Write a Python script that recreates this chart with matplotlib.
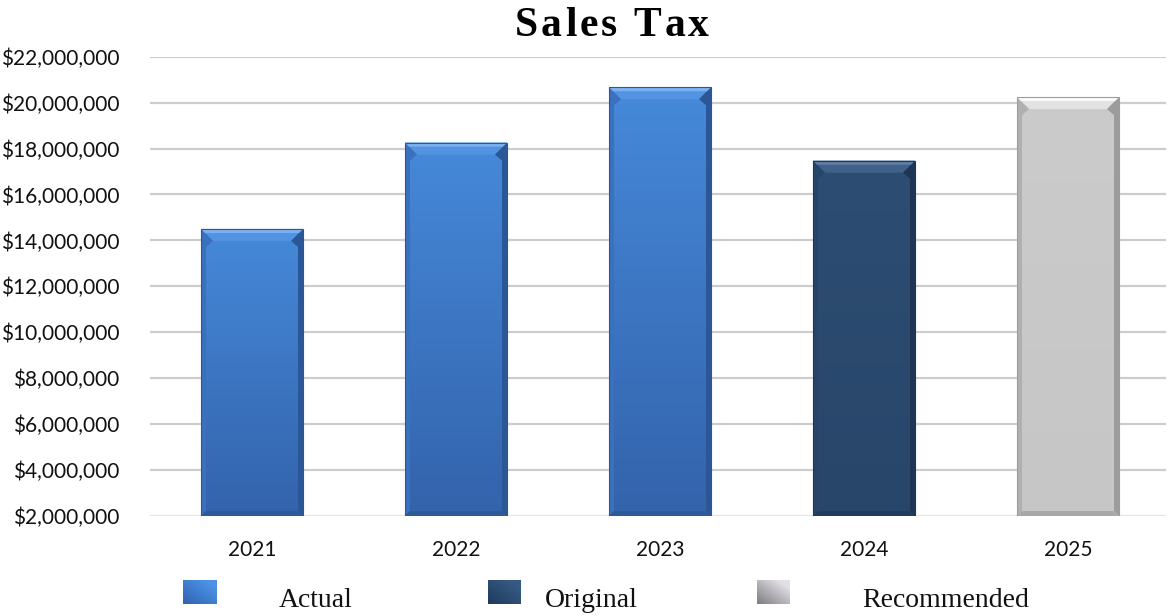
import numpy as np
import matplotlib
matplotlib.use("Agg")
import matplotlib.pyplot as plt
from matplotlib.patches import Polygon, Rectangle
from matplotlib.colors import LinearSegmentedColormap
from matplotlib.ticker import FuncFormatter
from matplotlib.transforms import IdentityTransform

# ---- data ----
years = ["2021", "2022", "2023", "2024", "2025"]
sales_tax = [14_500_000, 18_260_000, 20_670_000, 17_470_000, 20_240_000]
series = ["Actual", "Actual", "Actual", "Original", "Recommended"]
legend_labels = ["Actual", "Original", "Recommended"]
y_ticks = list(range(2_000_000, 22_000_001, 2_000_000))
title = "Sales Tax"

# ---- styles per series ----
styles = {
    "Actual": dict(top="#4689DA", bottom="#3363AB", bevel="#5393E2", hi="#7DB2F0",
                   left="#3A70BD", right="#2C5796", base="#2D5A99"),
    "Original": dict(top="#2D4D72", bottom="#28466A", bevel="#40618A", hi="#5F7FA3",
                     left="#27446A", right="#1E3654", base="#213C5E"),
    "Recommended": dict(top="#CBCBCB", bottom="#C6C6C6", bevel="#E2E2E2", hi="#FAFAFA",
                        left="#B0B0B0", right="#9C9C9C", base="#A8A8A8"),
}
legend_colors = {"Actual": ("#2F63B0", "#4C92E6"),
                 "Original": ("#1F3A5C", "#365A84"),
                 "Recommended": ("#7E7C80", "#E2E0E4")}

W, H, DPI = 1169, 616, 100
fig = plt.figure(figsize=(W / DPI, H / DPI), dpi=DPI)
ax = fig.add_axes([150 / W, 100 / H, 1020 / W, 459.3 / H])

x = np.arange(len(years))
ax.set_xlim(-0.5, len(years) - 0.5)
ax.set_ylim(y_ticks[0], y_ticks[-1])

# grid
for t in y_ticks:
    lc = "#E6E6E6" if t == y_ticks[0] else "#CDCDCD"
    ax.axhline(t, color=lc, lw=1.6, zorder=0, xmax=0.995)

bars = ax.bar(x, np.array(sales_tax) - y_ticks[0], bottom=y_ticks[0], width=0.5,
              zorder=2, linewidth=0)

for b, s in zip(bars, series):
    st = styles[s]
    b.set_facecolor(st["bottom"])
    x0, x1 = b.get_x(), b.get_x() + b.get_width()
    y0, y1 = b.get_y(), b.get_y() + b.get_height()
    cmap = LinearSegmentedColormap.from_list("g", [st["bottom"], st["top"]])
    grad = np.linspace(0, 1, 256).reshape(-1, 1)
    im = ax.imshow(grad, cmap=cmap, origin="lower", extent=(x0, x1, y0, y1),
                   aspect="auto", zorder=3, interpolation="bilinear")
    im.set_clip_path(b)

    # bevel edges drawn in pixel space from the bar's data extent
    (px0, py0), (px1, py1) = ax.transData.transform([(x0, y0), (x1, y1)])
    ident = IdentityTransform()
    side, topb = 5, 12
    polys = [
        ([(px0, py1), (px1, py1), (px1 - topb, py1 - topb), (px0 + topb, py1 - topb)], st["bevel"]),
        ([(px0, py1), (px0 + topb, py1 - topb), (px0 + side, py1 - topb - 6),
          (px0 + side, py0 + side), (px0, py0)], st["left"]),
        ([(px1, py1), (px1 - topb, py1 - topb), (px1 - side, py1 - topb - 6),
          (px1 - side, py0 + side), (px1, py0)], st["right"]),
        ([(px0, py0), (px1, py0), (px1 - side, py0 + side), (px0 + side, py0 + side)], st["base"]),
        ([(px0, py1), (px1, py1), (px1 - 4, py1 - 4), (px0 + 4, py1 - 4)], st["hi"]),
    ]
    for pts, c in polys:
        ax.add_patch(Polygon(pts, closed=True, transform=ident, facecolor=c,
                             edgecolor="none", zorder=4))
    ax.add_patch(Rectangle((px0, py0), px1 - px0, py1 - py0, transform=ident,
                           facecolor="none", edgecolor=st["right"], lw=0.8, zorder=5))

for sp in ax.spines.values():
    sp.set_visible(False)
ax.set_yticks(y_ticks)
ax.yaxis.set_major_formatter(FuncFormatter(lambda v, p: f"${v:,.0f}"))
ax.set_xticks(x)
ax.set_xticklabels(years)
ax.tick_params(axis="both", length=0, labelsize=15, labelcolor="#111111")
ax.tick_params(axis="y", pad=22)
ax.tick_params(axis="x", pad=17)
for lab in ax.get_xticklabels() + ax.get_yticklabels():
    lab.set_fontfamily("Lato")

# title with letter spacing (each glyph measured on its own)
renderer = fig.canvas.get_renderer()
tkw = dict(fontsize=30, fontweight="bold", family="Liberation Serif")
spacing = 3.0
def glyph_width(ch):
    t = fig.text(0, 0, "\u00a0" if ch == " " else ch, **tkw)
    w = t.get_window_extent(renderer).width
    t.remove()
    return w
widths = [glyph_width(ch) for ch in title]
total = sum(widths) + spacing * (len(title) - 1)
px = 612 - total / 2
for ch, w in zip(title, widths):
    if ch != " ":
        fig.text(px / W, 1 - 36 / H, ch, ha="left", va="baseline", **tkw)
    px += w + spacing

# legend row
marker_x = [183, 488, 757]
text_cx = [316, 591, 946]
for mx, tc, lab in zip(marker_x, text_cx, legend_labels):
    dark, light = legend_colors[lab]
    lax = fig.add_axes([mx / W, 1 - 604 / H, 33 / W, 24 / H])
    gx = np.linspace(0, 1, 64)
    gy = np.linspace(0, 1, 32)
    g = np.clip(0.6 * gx[None, :] + 0.6 * gy[:, None], 0, 1)
    lax.imshow(g, cmap=LinearSegmentedColormap.from_list("l", [dark, light]),
               origin="lower", aspect="auto", extent=(0, 1, 0, 1))
    lax.set_axis_off()
    fig.text(tc / W, 1 - 607 / H, lab, ha="center", va="baseline",
             fontsize=20, family="Liberation Serif", color="#111111")

fig.savefig("out.png", dpi=DPI)
